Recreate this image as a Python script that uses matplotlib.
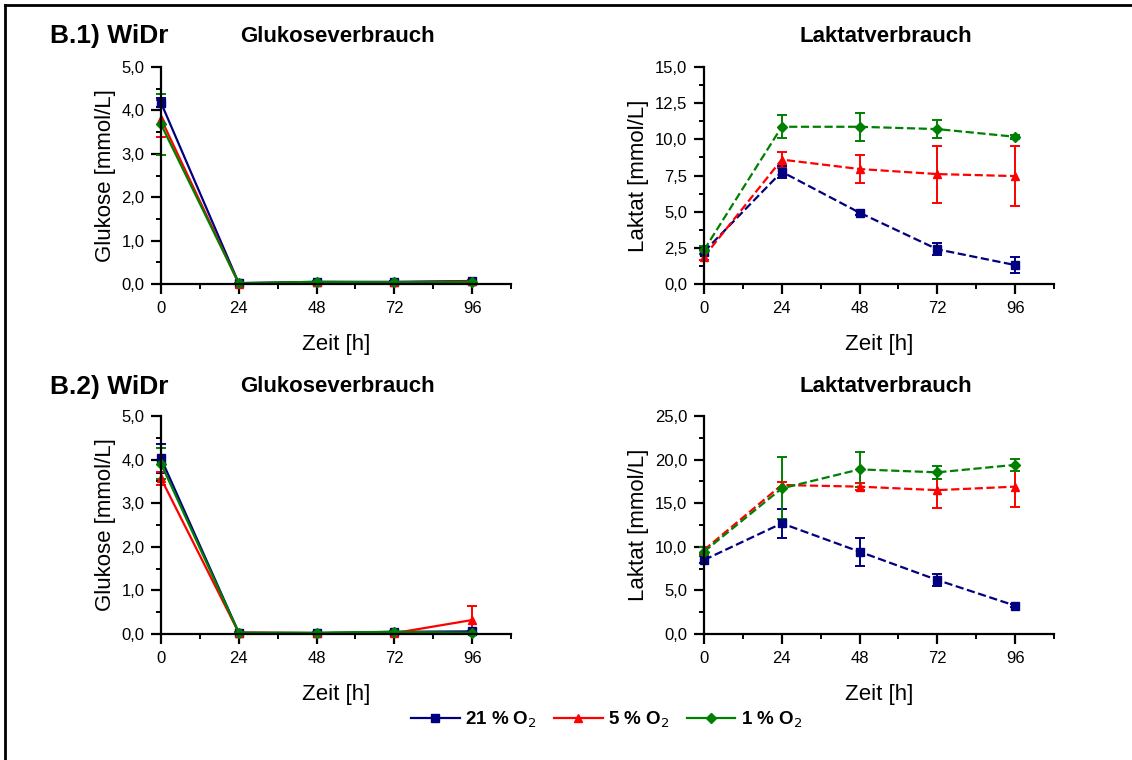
import numpy as np
import matplotlib.pyplot as plt
from matplotlib.ticker import MultipleLocator, FuncFormatter
from matplotlib.lines import Line2D

plt.rcParams['font.family'] = ['Liberation Sans', 'DejaVu Sans']

# time points (h)
t = [0, 24, 48, 72, 96]

# B.1 glucose [mmol/L]
glc1_21 = [4.18, 0.02, 0.05, 0.05, 0.07]
glc1_21_err = [0.10, 0.01, 0.01, 0.01, 0.02]
glc1_5 = [3.81, 0.01, 0.04, 0.04, 0.06]
glc1_5_err = [0.43, 0.01, 0.01, 0.01, 0.03]
glc1_1 = [3.68, 0.02, 0.05, 0.04, 0.05]
glc1_1_err = [0.70, 0.01, 0.02, 0.01, 0.02]

# B.1 lactate [mmol/L]
lac1_21 = [2.23, 7.76, 4.93, 2.40, 1.31]
lac1_21_err = [0.15, 0.40, 0.15, 0.42, 0.55]
lac1_5 = [1.89, 8.60, 7.95, 7.60, 7.46]
lac1_5_err = [0.20, 0.55, 1.00, 1.97, 2.07]
lac1_1 = [2.35, 10.87, 10.87, 10.71, 10.18]
lac1_1_err = [0.30, 0.80, 0.95, 0.65, 0.15]

# B.2 glucose [mmol/L]
glc2_21 = [4.03, 0.03, 0.02, 0.05, 0.06]
glc2_21_err = [0.33, 0.01, 0.01, 0.02, 0.02]
glc2_5 = [3.57, 0.03, 0.02, 0.02, 0.32]
glc2_5_err = [0.15, 0.01, 0.01, 0.01, 0.33]
glc2_1 = [3.91, 0.03, 0.03, 0.05, 0.03]
glc2_1_err = [0.35, 0.01, 0.01, 0.02, 0.01]

# B.2 lactate [mmol/L]
lac2_21 = [8.49, 12.69, 9.44, 6.19, 3.25]
lac2_21_err = [0.40, 1.70, 1.60, 0.70, 0.20]
lac2_5 = [9.63, 17.09, 16.90, 16.50, 16.90]
lac2_5_err = [0.40, 0.40, 0.40, 2.10, 2.35]
lac2_1 = [9.44, 16.70, 18.88, 18.54, 19.40]
lac2_1_err = [0.50, 3.55, 2.00, 0.75, 0.70]

labels = ['21 % O$_2$', '5 % O$_2$', '1 % O$_2$']
colors = ['#000080', '#ff0000', '#008000']
markers = ['s', '^', 'D']

fig = plt.figure(figsize=(11.32, 7.6), dpi=100)

comma = FuncFormatter(lambda v, p: ('%.1f' % v).replace('.', ','))


def panel(rect, series, errs, ls, ymax, ymajor, ylabel):
    ax = fig.add_axes(rect)
    for y, e, c, m in zip(series, errs, colors, markers):
        ax.errorbar(t, y, yerr=e, color=c, marker=m, ms=5.5, lw=1.6, ls=ls,
                    capsize=3.5, elinewidth=1.4, capthick=1.4, clip_on=False)
    ax.set_xlim(0, 108)
    ax.set_ylim(0, ymax)
    ax.spines['top'].set_visible(False)
    ax.spines['right'].set_visible(False)
    for s in ('left', 'bottom'):
        ax.spines[s].set_linewidth(1.6)
    ax.set_xticks(t)
    ax.xaxis.set_minor_locator(MultipleLocator(12))
    ax.yaxis.set_major_locator(MultipleLocator(ymajor))
    ax.yaxis.set_minor_locator(MultipleLocator(ymajor / 2))
    ax.yaxis.set_major_formatter(comma)
    ax.tick_params(which='major', direction='out', length=7, width=1.6,
                   labelsize=12, pad=5)
    ax.tick_params(which='minor', direction='out', length=3.5, width=1.4)
    ax.set_xlabel('Zeit [h]', fontsize=16, labelpad=13)
    ax.set_ylabel(ylabel, fontsize=16, labelpad=4)
    return ax


panel([0.1422, 0.6263, 0.3092, 0.2855], [glc1_21, glc1_5, glc1_1],
      [glc1_21_err, glc1_5_err, glc1_1_err], '-', 5.0, 1.0, 'Glukose [mmol/L]')
panel([0.6219, 0.6263, 0.3092, 0.2855], [lac1_21, lac1_5, lac1_1],
      [lac1_21_err, lac1_5_err, lac1_1_err], '--', 15.0, 2.5, 'Laktat [mmol/L]')
panel([0.1422, 0.1658, 0.3092, 0.2868], [glc2_21, glc2_5, glc2_1],
      [glc2_21_err, glc2_5_err, glc2_1_err], '-', 5.0, 1.0, 'Glukose [mmol/L]')
panel([0.6219, 0.1658, 0.3092, 0.2868], [lac2_21, lac2_5, lac2_1],
      [lac2_21_err, lac2_5_err, lac2_1_err], '--', 25.0, 5.0, 'Laktat [mmol/L]')

# panel headings
fig.text(50 / 1132, 1 - 36 / 760, 'B.1) WiDr', fontsize=19, fontweight='bold', va='center')
fig.text(337 / 1132, 1 - 36 / 760, 'Glukoseverbrauch', fontsize=16, fontweight='bold',
         ha='center', va='center')
fig.text(886 / 1132, 1 - 36 / 760, 'Laktatverbrauch', fontsize=16, fontweight='bold',
         ha='center', va='center')
fig.text(50 / 1132, 1 - 387 / 760, 'B.2) WiDr', fontsize=19, fontweight='bold', va='center')
fig.text(337 / 1132, 1 - 387 / 760, 'Glukoseverbrauch', fontsize=16, fontweight='bold',
         ha='center', va='center')
fig.text(886 / 1132, 1 - 387 / 760, 'Laktatverbrauch', fontsize=16, fontweight='bold',
         ha='center', va='center')

# legend
handles = [Line2D([], [], color=c, marker=m, ms=5.5, lw=1.6) for c, m in zip(colors, markers)]
fig.legend(handles, labels, loc='center', bbox_to_anchor=(0.536, 1 - 720 / 760), ncol=3,
           frameon=False, prop={'weight': 'bold', 'size': 13.5}, handlelength=2.6,
           handletextpad=0.3, columnspacing=0.9)

# frame lines (top and left)
fig.add_artist(Line2D([5 / 1132, 1], [1 - 5 / 760] * 2, color='black', lw=2))
fig.add_artist(Line2D([5 / 1132] * 2, [0, 1 - 5 / 760], color='black', lw=2))

fig.savefig('out.png', dpi=100)
plt.close()
